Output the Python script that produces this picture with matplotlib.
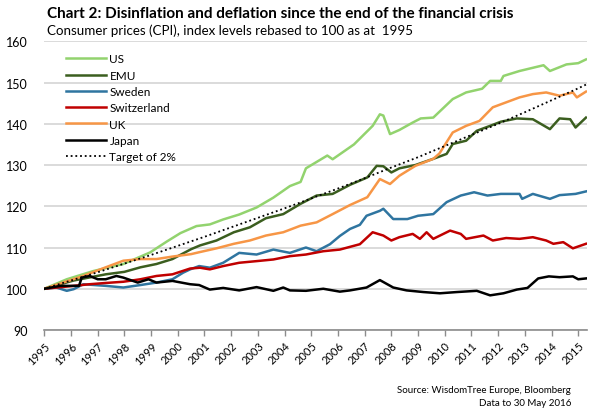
import matplotlib
matplotlib.use("Agg")
import matplotlib.pyplot as plt

# values (x in axis years, y = index level)
us_t = [1995.0, 1995.84, 1996.84, 1997.96, 1998.96, 1999.6, 2000.1, 2000.7, 2001.2, 2001.7,
        2002.3, 2002.95, 2003.58, 2004.2, 2004.6, 2004.8, 2005.6, 2005.8, 2006.6, 2007.3,
        2007.57, 2007.7, 2007.95, 2008.3, 2008.8, 2009.1, 2009.57, 2010.3, 2010.8, 2011.4,
        2011.7, 2012.1, 2012.2, 2012.8, 2013.7, 2013.94, 2014.56, 2015.0, 2015.29]
us_v = [100, 102.3, 104.3, 106, 108.8, 111.5, 113.5, 115.2, 115.6, 116.8,
        118, 119.7, 122.1, 124.9, 125.9, 129.2, 132.3, 131.4, 135, 139.5,
        142.3, 142, 137.5, 138.5, 140.3, 141.3, 141.5, 146, 147.6, 148.5,
        150.4, 150.4, 151.6, 152.8, 154.2, 152.8, 154.4, 154.7, 155.6]

emu_t = [1995.0, 1996.1, 1997.3, 1998.0, 1998.6, 1999.2, 1999.8, 2000.5, 2000.83, 2001.45,
         2002.1, 2002.7, 2003.3, 2003.95, 2004.6, 2005.2, 2005.8, 2006.45, 2007.1, 2007.45,
         2007.7, 2008.0, 2008.3, 2008.9, 2009.57, 2010.07, 2010.3, 2010.8, 2011.2, 2011.7,
         2012.1, 2012.7, 2013.3, 2013.94, 2014.3, 2014.7, 2014.9, 2015.29]
emu_v = [100, 102.0, 103.5, 104.1, 105.2, 106, 107.2, 109.6, 110.5, 111.7,
         113.7, 114.9, 117.1, 118.1, 120.6, 122.6, 123, 125.2, 127, 129.8,
         129.7, 128.2, 129.2, 130, 131.5, 132.7, 135.1, 135.9, 138.3, 139.5,
         140.5, 141.3, 141.1, 138.7, 141.3, 141.1, 139.1, 141.5]

se_t = [1995.0, 1995.45, 1995.84, 1996.1, 1996.46, 1997.3, 1997.96, 1998.6, 1999.2, 1999.8,
        2000.2, 2000.46, 2000.8, 2001.2, 2001.7, 2002.3, 2002.95, 2003.58, 2004.2, 2004.8,
        2005.2, 2005.7, 2006.07, 2006.45, 2006.82, 2007.07, 2007.57, 2007.7, 2008.07, 2008.6,
        2009.0, 2009.57, 2010.07, 2010.6, 2011.1, 2011.6, 2012.1, 2012.8, 2012.9, 2013.3,
        2013.94, 2014.3, 2014.9, 2015.29]
se_v = [100, 100.3, 99.5, 99.9, 101.1, 100.7, 100.3, 100.9, 101.5, 102.3,
        103.9, 104.7, 105.5, 105.1, 106.3, 108.7, 108.3, 109.5, 108.7, 110,
        109.1, 110.8, 112.8, 114.5, 115.5, 117.7, 118.9, 119.4, 116.9, 116.9,
        117.7, 118.1, 121, 122.6, 123.4, 122.6, 123, 123, 121.8, 123,
        121.8, 122.7, 123, 123.6]

ch_t = [1995.0, 1996.1, 1996.7, 1997.3, 1997.96, 1998.6, 1999.2, 1999.8, 2000.46, 2000.83,
        2001.2, 2001.7, 2002.3, 2002.95, 2003.58, 2004.2, 2004.8, 2005.45, 2006.07, 2006.82,
        2007.3, 2007.7, 2008.0, 2008.3, 2008.8, 2009.07, 2009.32, 2009.57, 2010.2, 2010.6,
        2010.8, 2011.45, 2011.8, 2012.3, 2012.8, 2013.3, 2013.8, 2014.07, 2014.44, 2014.8,
        2015.29]
ch_v = [100, 100.7, 101.1, 101.4, 101.7, 102.3, 103.1, 103.5, 104.9, 105.1,
        104.7, 105.5, 106.3, 106.7, 107.1, 107.9, 108.3, 109.1, 109.5, 110.8,
        113.7, 112.9, 111.7, 112.5, 113.3, 112.1, 113.7, 112.1, 114.1, 113.3,
        112.1, 112.9, 111.7, 112.3, 112.1, 112.5, 111.7, 110.9, 111.3, 109.8,
        110.9]

uk_t = [1995.0, 1996.46, 1997.3, 1997.96, 1998.6, 1999.2, 1999.8, 2000.5, 2000.83, 2001.45,
        2002.1, 2002.7, 2003.3, 2003.95, 2004.6, 2005.2, 2005.8, 2006.45, 2007.1, 2007.57,
        2007.95, 2008.3, 2008.9, 2009.57, 2009.8, 2010.3, 2010.8, 2011.3, 2011.8, 2012.3,
        2012.8, 2013.3, 2013.8, 2014.3, 2014.8, 2014.95, 2015.29]
uk_v = [100, 103.1, 105.2, 106.8, 107.2, 107.2, 107.8, 108.4, 108.9, 109.8,
        110.9, 111.7, 112.9, 113.7, 115.3, 116.1, 118.1, 120.3, 122.2, 126.6,
        125.4, 127.4, 129.8, 131.5, 132.8, 137.9, 139.5, 140.7, 144, 145.2,
        146.4, 147.2, 147.6, 146.8, 147.6, 146.4, 147.8]

jp_t = [1995.0, 1995.6, 1996.3, 1996.4, 1996.7, 1997.0, 1997.3, 1997.7, 1997.96, 1998.5,
        1998.9, 1999.2, 1999.8, 2000.46, 2000.8, 2001.2, 2001.7, 2002.3, 2002.95, 2003.58,
        2003.95, 2004.2, 2004.8, 2005.45, 2006.07, 2006.45, 2007.07, 2007.57, 2008.07, 2008.57,
        2009.2, 2009.82, 2010.45, 2011.2, 2011.7, 2012.2, 2012.7, 2013.1, 2013.5, 2013.9,
        2014.3, 2014.8, 2015.0, 2015.29]
jp_v = [100, 100.7, 100.7, 102.7, 103.1, 102.3, 102.3, 103.1, 102.7, 101.5,
        102.3, 101.5, 101.9, 101.1, 100.9, 99.8, 100.2, 99.6, 100.4, 99.5,
        100.3, 99.6, 99.5, 100.0, 99.3, 99.6, 100.3, 102.1, 100.3, 99.6,
        99.2, 98.9, 99.2, 99.5, 98.4, 98.9, 99.8, 100.2, 102.5, 103.0,
        102.8, 103.0, 102.3, 102.5]

target_t = [1995, 1996, 1997, 1998, 1999, 2000, 2001, 2002, 2003, 2004, 2005,
            2006, 2007, 2008, 2009, 2010, 2011, 2012, 2013, 2014, 2015, 2015.29]
target_v = [100, 102, 104, 106.1, 108.2, 110.4, 112.6, 114.9, 117.2, 119.5, 121.9,
            124.3, 126.8, 129.4, 131.9, 134.6, 137.3, 140, 142.8, 145.7, 148.6, 149.5]

year_labels = [str(y) for y in range(1995, 2016)]

plt.rcParams['font.family'] = ['Lato', 'DejaVu Sans']

fig = plt.figure(figsize=(5.95, 4.14), dpi=100)
ax = fig.add_axes([0.0745, 0.2005, 0.9121, 0.6973])

lw = 1.8
ax.plot(us_t, us_v, color='#92d36e', lw=lw, label='US')
ax.plot(emu_t, emu_v, color='#3b5e1f', lw=lw, label='EMU')
ax.plot(se_t, se_v, color='#2f75a0', lw=lw, label='Sweden')
ax.plot(ch_t, ch_v, color='#c00000', lw=lw, label='Switzerland')
ax.plot(uk_t, uk_v, color='#f79646', lw=lw, label='UK')
ax.plot(jp_t, jp_v, color='black', lw=lw, label='Japan')
ax.plot(target_t, target_v, color='black', lw=1.3, ls=(0, (1, 1.6)), label='Target of 2%')

ax.set_xlim(1995, 2015.33)
ax.set_ylim(90, 160)
ax.set_yticks(range(90, 161, 10))
ax.set_xticks(range(1995, 2016))
ax.set_xticklabels(year_labels, rotation=45, ha='right', rotation_mode='anchor', fontsize=8)

ax.grid(axis='y', color='#d4d4d4', lw=1.2)
ax.set_axisbelow(True)
for s in ['top', 'right', 'left']:
    ax.spines[s].set_visible(False)
ax.spines['bottom'].set_color('#8c8c8c')
ax.spines['bottom'].set_linewidth(1.2)
ax.tick_params(axis='y', length=0, pad=12, labelsize=9)
ax.tick_params(axis='x', length=4, color='#8c8c8c', width=1, pad=3)

leg = ax.legend(loc='upper left', bbox_to_anchor=(0.02, 0.995), frameon=False,
                fontsize=8.5, handlelength=3.4, handletextpad=0.3, labelspacing=0.45)

fig.text(0.079, 0.965, 'Chart 2: Disinflation and deflation since the end of the financial crisis',
         fontsize=11, fontweight='bold', va='center')
fig.text(0.079, 0.925, 'Consumer prices (CPI), index levels rebased to 100 as at  1995',
         fontsize=9.6, va='center')
fig.text(0.96, 0.056, 'Source: WisdomTree Europe, Bloomberg', fontsize=7, ha='right', va='center')
fig.text(0.96, 0.026, 'Data to 30 May 2016', fontsize=7, ha='right', va='center')

fig.savefig('out.png', dpi=100)
